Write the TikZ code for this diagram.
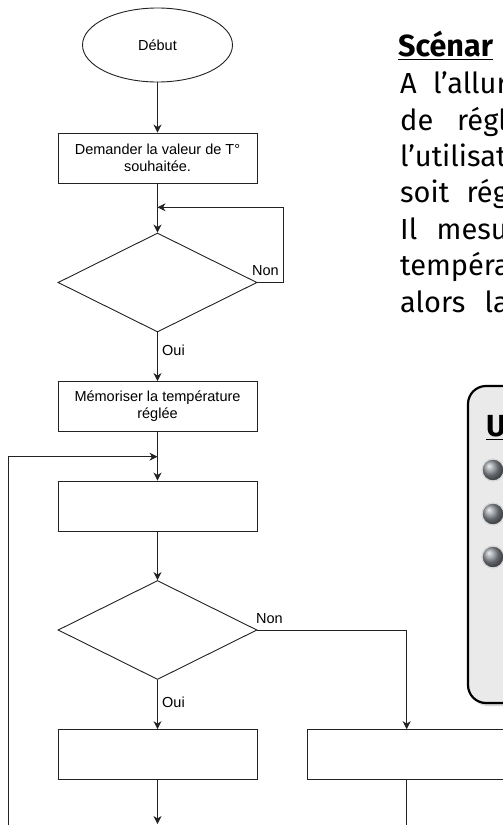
\documentclass[tikz,border=0pt]{standalone}
\usepackage{fontspec}
\setmainfont{Liberation Sans}
\newfontfamily\bodyfont{Fira Sans}
\usetikzlibrary{shapes.geometric,arrows.meta,shadows}
\definecolor{lineC}{HTML}{222222}
\definecolor{callfill}{HTML}{EAEAEA}
\definecolor{ballC}{HTML}{8A8F95}
\tikzset{
  flow/.style={draw=lineC, line width=0.9pt, fill=white, font=\fontsize{14.5}{17}\selectfont, align=center, inner sep=2pt},
  procbox/.style={flow, rectangle, minimum width=199pt, minimum height=50pt},
  decision/.style={flow, diamond, minimum width=199pt, minimum height=99pt, inner sep=0pt},
  startnode/.style={flow, ellipse, minimum width=150pt, minimum height=74pt},
  conn/.style={draw=lineC, line width=0.9pt},
  arr/.style={conn, -{Stealth[length=8pt,width=8pt,inset=2.5pt]}},
  lbl/.style={font=\fontsize{14.5}{17}\selectfont, anchor=base west, inner sep=0pt},
  body/.style={font=\bodyfont\fontsize{29}{36}\selectfont, anchor=base west, inner sep=0pt},
  bodyend/.style={body, anchor=base east},
  bodyb/.style={font=\bodyfont\bfseries\fontsize{30.5}{36}\selectfont, anchor=base west, inner sep=0pt},
  ball/.style={circle, minimum size=22pt, inner sep=0pt, shading=ball, ball color=ballC, draw=gray!30, line width=1.3pt},
  callbox/.style={rectangle, draw=black, line width=2.2pt, fill=callfill, rounded corners=18pt,
     drop shadow={opacity=0.3, shadow xshift=2pt, shadow yshift=-3pt}},
}
\begin{document}
\begin{tikzpicture}[x=1pt,y=-1pt]
\useasboundingbox (0,0) rectangle (503,825);
\clip (0,0) rectangle (503,825);
\fill[white] (0,0) rectangle (503,825);

% flowchart nodes
\node[startnode] (start) at (157.5,45) {Début};
\node[procbox] (b1) at (157.5,158) {Demander la valeur de T°\\souhaitée.};
\node[decision] (d1) at (157.5,282.5) {};
\node[procbox] (b2) at (157.5,406.5) {Mémoriser la température\\réglée};
\node[procbox] (b3) at (157.5,506) {};
\node[decision] (d2) at (157.5,630) {};
\node[procbox] (b4) at (157.5,754.6) {};
\node[procbox] (b5) at (406.7,754.6) {};

\coordinate (j1) at (157.5,207.3);
\coordinate (r1) at (283,282.5);
\coordinate (r1t) at (283,207.3);
\coordinate (j2) at (157.5,456.7);
\coordinate (l0) at (8.3,830);
\coordinate (l1) at (8.3,456.7);
\coordinate (n2) at (406.7,630);
\coordinate (e1) at (157.5,824);
\coordinate (e2) at (406.7,830);

% connectors
\draw[arr] (start) -- (b1);
\draw[arr] (b1) -- (d1);
\draw[arr] (d1.east) -- (r1) -- (r1t) -- (j1);
\draw[arr] (d1) -- (b2);
\draw[arr] (b2) -- (b3);
\draw[arr] (l0) -- (l1) -- (j2);
\draw[arr] (b3) -- (d2);
\draw[arr] (d2) -- (b4);
\draw[arr] (d2.east) -- (n2) -- (b5.north);
\draw[arr] (b4) -- (e1);
\draw[conn] (b5) -- (e2);

% labels
\node[lbl] (non1) at (252,275) {Non};
\node[lbl] (oui1) at (162,355) {Oui};
\node[lbl] (non2) at (256,623) {Non};
\node[lbl] (oui2) at (162,707) {Oui};

% right text
\node[bodyb] (scen) at (398,56) {Scénar};
\draw[line width=1.6pt] ([yshift=-3.5pt]scen.base west) -- ([yshift=-3.5pt]scen.base east);
\node[body] (t2a) at (400,93) {A};
\node[bodyend] (t2b) at (508,93) {l’allur};
\node[body] (t3a) at (400,130) {de};
\node[bodyend] (t3b) at (507,130) {régl};
\node[body] (t4) at (400,166) {l’utilisat};
\node[body] (t5a) at (400,202) {soit};
\node[bodyend] (t5b) at (508,202) {rég};
\node[body] (t6a) at (400,239) {Il};
\node[bodyend] (t6b) at (508,239) {mesu};
\node[body] (t7) at (400,275) {températ};
\node[body] (t8a) at (400,312) {alors};
\node[bodyend] (t8b) at (509,312) {la};

% callout
\node[callbox, minimum width=100pt, minimum height=317pt] (cb) at (518,544.5) {};
\node[bodyb] (uu) at (486,436) {U};
\draw[line width=1.6pt] ([yshift=-3.5pt]uu.base west) -- ([yshift=-3.5pt]uu.base east);
\node[ball] (ball1) at (493,470) {};
\node[ball] (ball2) at (493,514) {};
\node[ball] (ball3) at (493,557) {};
\end{tikzpicture}
\end{document}
